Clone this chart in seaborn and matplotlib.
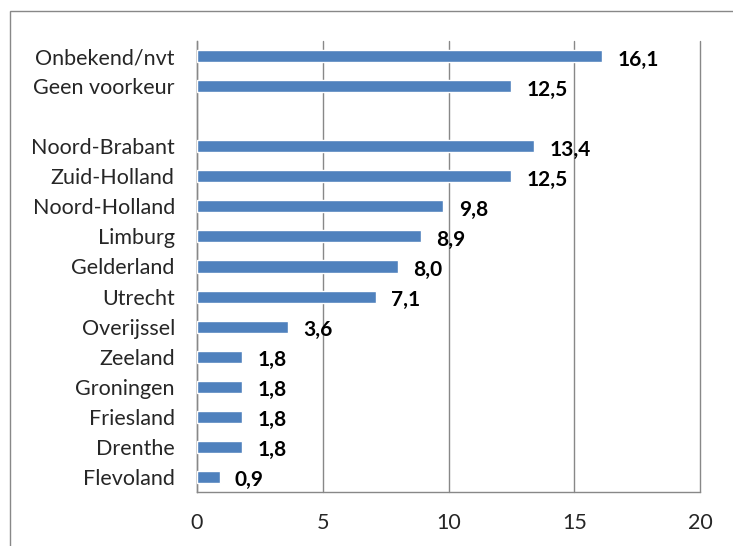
import matplotlib
matplotlib.use("Agg")
import matplotlib.pyplot as plt
import seaborn as sns
import pandas as pd
from matplotlib.patches import Rectangle

categories = ["Onbekend/nvt", "Geen voorkeur", " ", "Noord-Brabant", "Zuid-Holland",
              "Noord-Holland", "Limburg", "Gelderland", "Utrecht", "Overijssel",
              "Zeeland", "Groningen", "Friesland", "Drenthe", "Flevoland"]
values = [16.1, 12.5, None, 13.4, 12.5, 9.8, 8.9, 8.0, 7.1, 3.6, 1.8, 1.8, 1.8, 1.8, 0.9]
xticks = [0, 5, 10, 15, 20]

df = pd.DataFrame({"cat": categories, "val": values}).dropna()

sns.set_style("white")
plt.rcParams["font.family"] = ["Lato", "DejaVu Sans"]

fig = plt.figure(figsize=(7.33, 5.46), dpi=100)
ax = fig.add_axes([197 / 733, 1 - 492 / 546, 503 / 733, 451 / 546])

sns.barplot(data=df, x="val", y="cat", order=categories, orient="h",
            color="#4F81BD", saturation=1, width=0.4, ax=ax, zorder=3)

for i, cat in enumerate(categories):
    v = values[i]
    if v is None:
        continue
    ax.annotate(f"{v:.1f}".replace(".", ","), xy=(v, i), xytext=(11, -2.5),
                textcoords="offset points", ha="left", va="center",
                fontsize=15, fontweight="bold", color="black")

ax.set_xlim(0, 20)
ax.set_ylim(len(categories) - 0.5, -0.5)
ax.set_xticks(xticks)
ax.set_xticklabels([str(t) for t in xticks], fontsize=15.5)
ax.set_yticks(range(len(categories)))
ax.set_yticklabels(categories, fontsize=15.5)
ax.set_yticks([i - 0.5 for i in range(len(categories) + 1)], minor=True)
ax.tick_params(axis="y", which="major", length=0, pad=16)
ax.tick_params(axis="y", which="minor", length=5, color="#888888", width=1)
ax.tick_params(axis="x", length=5, color="#888888", width=1, pad=10)
ax.set_xlabel("")
ax.set_ylabel("")
ax.grid(axis="x", color="#888888", linewidth=1, zorder=0)
for gl in ax.get_xgridlines():
    gl.set_clip_on(False)
ax.set_axisbelow(True)
for side in ["top", "right"]:
    ax.spines[side].set_visible(False)
for side in ["left", "bottom"]:
    ax.spines[side].set_color("#888888")
    ax.spines[side].set_linewidth(1)

fig.add_artist(Rectangle((10 / 733, -0.1), 1.2, 1.1 - 11 / 546,
                         transform=fig.transFigure, fill=False,
                         edgecolor="#888888", linewidth=1))

fig.savefig("out.png", dpi=100)
plt.close(fig)
